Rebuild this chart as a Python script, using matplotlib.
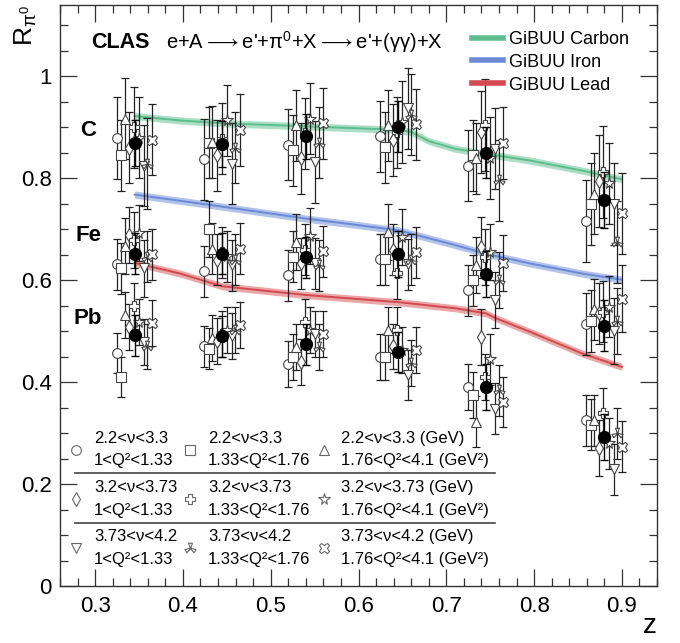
import matplotlib
matplotlib.use("Agg")
import matplotlib.pyplot as plt
import numpy as np
from matplotlib.lines import Line2D
from matplotlib.ticker import MultipleLocator, FuncFormatter

plt.rcParams['font.family'] = ['Liberation Sans', 'DejaVu Sans']
plt.rcParams['mathtext.fontset'] = 'custom'
plt.rcParams['mathtext.rm'] = 'Liberation Sans'
plt.rcParams['mathtext.it'] = 'Liberation Sans'
plt.rcParams['mathtext.default'] = 'regular'

# ---------------- data ----------------
z_bins = [0.345, 0.445, 0.54, 0.645, 0.745, 0.88]

# integrated (filled black) points
C_int = [0.869, 0.868, 0.882, 0.901, 0.850, 0.758]
Fe_int = [0.652, 0.652, 0.645, 0.651, 0.612, 0.511]
Pb_int = [0.492, 0.490, 0.474, 0.459, 0.391, 0.293]
C_int_err = [0.045, 0.045, 0.045, 0.050, 0.050, 0.055]
Fe_int_err = [0.040, 0.040, 0.040, 0.045, 0.045, 0.050]
Pb_int_err = [0.040, 0.040, 0.040, 0.040, 0.045, 0.045]

# kinematic bins (order: circle, square, triangle, diamond, cross, star, invtri, trefoil, xcross)
nu_q2_labels = [
    "2.2<ν<3.3\n1<Q²<1.33",
    "2.2<ν<3.3\n1.33<Q²<1.76",
    "2.2<ν<3.3 (GeV)\n1.76<Q²<4.1 (GeV²)",
    "3.2<ν<3.73\n1<Q²<1.33",
    "3.2<ν<3.73\n1.33<Q²<1.76",
    "3.2<ν<3.73 (GeV)\n1.76<Q²<4.1 (GeV²)",
    "3.73<ν<4.2\n1<Q²<1.33",
    "3.73<ν<4.2\n1.33<Q²<1.76",
    "3.73<ν<4.2 (GeV)\n1.76<Q²<4.1 (GeV²)",
]

C_bins = [
    [0.879, 0.845, 0.917, 0.860, 0.900, 0.880, 0.825, 0.829, 0.876],
    [0.837, 0.870, 0.871, 0.845, 0.878, 0.914, 0.829, 0.860, 0.895],
    [0.866, 0.855, 0.904, 0.839, 0.888, 0.917, 0.832, 0.870, 0.908],
    [0.882, 0.861, 0.904, 0.875, 0.890, 0.910, 0.937, 0.925, 0.906],
    [0.825, 0.845, 0.839, 0.891, 0.904, 0.840, 0.858, 0.796, 0.869],
    [0.716, 0.750, 0.770, 0.795, 0.812, 0.790, 0.750, 0.675, 0.731],
]
C_bins_err = [
    [0.080, 0.070, 0.080, 0.070, 0.080, 0.080, 0.080, 0.090, 0.070],
    [0.080, 0.070, 0.070, 0.070, 0.070, 0.070, 0.080, 0.070, 0.070],
    [0.070, 0.070, 0.070, 0.070, 0.070, 0.070, 0.080, 0.070, 0.070],
    [0.070, 0.070, 0.070, 0.070, 0.070, 0.080, 0.080, 0.080, 0.070],
    [0.070, 0.070, 0.070, 0.080, 0.090, 0.080, 0.080, 0.080, 0.070],
    [0.080, 0.080, 0.080, 0.090, 0.090, 0.080, 0.080, 0.080, 0.080],
]
Fe_bins = [
    [0.631, 0.623, 0.667, 0.688, 0.678, 0.692, 0.623, 0.646, 0.651],
    [0.618, 0.701, 0.662, 0.640, 0.655, 0.647, 0.629, 0.640, 0.662],
    [0.610, 0.646, 0.675, 0.633, 0.660, 0.686, 0.633, 0.629, 0.657],
    [0.641, 0.641, 0.695, 0.660, 0.614, 0.685, 0.631, 0.640, 0.655],
    [0.580, 0.600, 0.629, 0.665, 0.645, 0.656, 0.561, 0.600, 0.633],
    [0.514, 0.520, 0.543, 0.535, 0.538, 0.548, 0.500, 0.520, 0.564],
]
Fe_bins_err = [
    [0.050, 0.050, 0.055, 0.055, 0.055, 0.055, 0.055, 0.050, 0.050],
    [0.050, 0.055, 0.050, 0.050, 0.050, 0.050, 0.050, 0.050, 0.050],
    [0.050, 0.050, 0.055, 0.050, 0.050, 0.055, 0.050, 0.050, 0.050],
    [0.050, 0.050, 0.055, 0.050, 0.050, 0.055, 0.050, 0.050, 0.050],
    [0.050, 0.050, 0.055, 0.060, 0.055, 0.055, 0.055, 0.055, 0.055],
    [0.060, 0.060, 0.060, 0.060, 0.060, 0.060, 0.065, 0.065, 0.065],
]
Pb_bins = [
    [0.457, 0.410, 0.531, 0.508, 0.550, 0.518, 0.479, 0.470, 0.516],
    [0.470, 0.466, 0.487, 0.480, 0.495, 0.502, 0.490, 0.502, 0.512],
    [0.435, 0.450, 0.469, 0.440, 0.518, 0.502, 0.495, 0.469, 0.495],
    [0.450, 0.450, 0.502, 0.470, 0.503, 0.463, 0.414, 0.437, 0.463],
    [0.390, 0.374, 0.322, 0.489, 0.410, 0.445, 0.348, 0.384, 0.361],
    [0.325, 0.316, 0.325, 0.270, 0.339, 0.280, 0.229, 0.300, 0.273],
]
Pb_bins_err = [
    [0.040, 0.040, 0.045, 0.045, 0.045, 0.045, 0.045, 0.045, 0.045],
    [0.040, 0.040, 0.045, 0.045, 0.045, 0.045, 0.045, 0.045, 0.045],
    [0.045, 0.045, 0.045, 0.045, 0.045, 0.045, 0.045, 0.045, 0.045],
    [0.045, 0.045, 0.045, 0.045, 0.045, 0.045, 0.050, 0.045, 0.045],
    [0.045, 0.045, 0.050, 0.055, 0.045, 0.050, 0.050, 0.050, 0.050],
    [0.050, 0.050, 0.050, 0.055, 0.050, 0.050, 0.050, 0.050, 0.050],
]

# GiBUU curves
gibuu_C_z = [0.345, 0.40, 0.445, 0.54, 0.60, 0.645, 0.66, 0.68, 0.71, 0.745, 0.795, 0.855, 0.90]
gibuu_C_R = [0.922, 0.913, 0.908, 0.902, 0.898, 0.895, 0.891, 0.873, 0.858, 0.848, 0.835, 0.815, 0.798]
gibuu_Fe_z = [0.345, 0.43, 0.54, 0.60, 0.645, 0.71, 0.745, 0.795, 0.855, 0.90]
gibuu_Fe_R = [0.768, 0.748, 0.721, 0.708, 0.698, 0.669, 0.652, 0.633, 0.613, 0.601]
gibuu_Pb_z = [0.345, 0.397, 0.445, 0.54, 0.60, 0.645, 0.71, 0.745, 0.757, 0.795, 0.855, 0.90]
gibuu_Pb_R = [0.634, 0.613, 0.588, 0.571, 0.563, 0.557, 0.545, 0.535, 0.525, 0.499, 0.456, 0.430]

# ---------------- style ----------------
marker_shift = [-0.0205, -0.015, -0.0115, -0.006, -0.001, 0.005, 0.011, 0.0145, 0.020]
# trefoil-like marker
_ang = np.deg2rad([90, 210, 330])
_verts = []
for a in _ang:
    for da, r in [(-0.45, 0.15), (-0.35, 1.0), (0.35, 1.0), (0.45, 0.15)]:
        _verts.append((r * np.cos(a + da), r * np.sin(a + da)))
_verts.append(_verts[0])
trefoil = _verts
markers = ['o', 's', '^', 'd', 'P', '*', 'v', trefoil, 'X']
msizes = [7, 6.5, 7.5, 7, 7.5, 8.5, 7.5, 8, 7.5]
gcol = {'C': ('#8fd4b0', '#5dbd8d'), 'Fe': ('#98afe3', '#6a8ad6'), 'Pb': ('#e58a8a', '#d24a4f')}
band_half = 0.007

fig = plt.figure(figsize=(6.8, 6.43), dpi=100)
ax = fig.add_axes([60 / 680, 1 - 586 / 643, 597 / 680, 581 / 643])
ax.set_xlim(0.26, 0.94)
ax.set_ylim(0, 1.14)

# GiBUU bands
for key, zz, rr in [('C', gibuu_C_z, gibuu_C_R), ('Fe', gibuu_Fe_z, gibuu_Fe_R), ('Pb', gibuu_Pb_z, gibuu_Pb_R)]:
    zz = np.asarray(zz); rr = np.asarray(rr)
    ax.fill_between(zz, rr - band_half, rr + band_half, color=gcol[key][0], alpha=0.75, lw=0, zorder=1.5)
    ax.plot(zz, rr, color=gcol[key][1], lw=1.4, zorder=1.6)

# data points
zb = np.asarray(z_bins)
for vals, errs in [(C_bins, C_bins_err), (Fe_bins, Fe_bins_err), (Pb_bins, Pb_bins_err)]:
    v = np.asarray(vals); e = np.asarray(errs)
    for k in range(9):
        ax.errorbar(zb + marker_shift[k], v[:, k], yerr=e[:, k], fmt='none', ecolor='#222222',
                    elinewidth=0.9, capsize=2.6, capthick=0.9, zorder=2)
        ax.plot(zb + marker_shift[k], v[:, k], ls='none', marker=markers[k], ms=msizes[k],
                mfc='white', mec='#444444', mew=0.8, zorder=3)

for vals, errs in [(C_int, C_int_err), (Fe_int, Fe_int_err), (Pb_int, Pb_int_err)]:
    ax.errorbar(zb, vals, yerr=errs, fmt='o', color='black', ms=8.5, elinewidth=1.0,
                capsize=2.6, capthick=1.0, zorder=4)

# axes styling
ax.xaxis.set_major_locator(MultipleLocator(0.1))
ax.xaxis.set_minor_locator(MultipleLocator(0.02))
ax.yaxis.set_major_locator(MultipleLocator(0.2))
ax.yaxis.set_minor_locator(MultipleLocator(0.05))
ax.yaxis.set_major_formatter(FuncFormatter(lambda v, p: f"{v:g}"))
ax.xaxis.set_major_formatter(FuncFormatter(lambda v, p: f"{v:g}"))
ax.tick_params(which='both', direction='in', top=True, right=True, width=0.9, colors='#333333',
               labelcolor='black', labelsize=16)
ax.tick_params(which='major', length=12)
ax.tick_params(which='minor', length=6)
ax.tick_params(axis='y', pad=6)
ax.tick_params(axis='x', pad=7)
for s in ax.spines.values():
    s.set_color('#333333'); s.set_linewidth(1.0)

ax.set_xlabel('z', loc='right', fontsize=20, labelpad=-3)
ax.set_ylabel(r'R$_{\pi^0}$', loc='top', fontsize=19)
ax.yaxis.set_label_coords(-0.035, 1.0)

# header text
fig.text(91 / 680, 1 - 42 / 643, 'CLAS', fontsize=15.5, fontweight='bold', va='center', ha='left')
fig.text(166 / 680, 1 - 42 / 643,
         r"e+A$\longrightarrow$e'+$\pi^{0}$+X$\longrightarrow$e'+($\gamma\gamma$)+X",
         fontsize=14.5, va='center', ha='left', math_fontfamily='dejavusans')

# target labels
for lab, yv in [('C', 0.894), ('Fe', 0.688), ('Pb', 0.525)]:
    ax.text(0.292, yv, lab, fontsize=16, fontweight='bold', ha='center', va='center')

# GiBUU legend
gh = [Line2D([], [], color=gcol['C'][1], lw=4), Line2D([], [], color=gcol['Fe'][1], lw=4),
      Line2D([], [], color=gcol['Pb'][1], lw=4)]
leg1 = ax.legend(gh, ['GiBUU Carbon', 'GiBUU Iron', 'GiBUU Lead'], loc='upper left',
                 bbox_to_anchor=(472 / 680, 1 - 31 / 643), bbox_transform=fig.transFigure,
                 frameon=False, fontsize=13, borderpad=0, borderaxespad=0, handlelength=1.7,
                 handletextpad=0.35, labelspacing=0.32)
ax.add_artist(leg1)

# kinematic-bin legend (column-major order)
order = [0, 3, 6, 1, 4, 7, 2, 5, 8]
mh = [Line2D([], [], ls='none', marker=markers[k], ms=msizes[k], mfc='white', mec='#666666', mew=0.8)
      for k in order]
leg2 = ax.legend(mh, [nu_q2_labels[k] for k in order], ncol=3, loc='upper left',
                 bbox_to_anchor=(68 / 680, 1 - 431 / 643), bbox_transform=fig.transFigure,
                 frameon=False, fontsize=12, borderpad=0, borderaxespad=0, handlelength=1.0,
                 handletextpad=0.55, columnspacing=0.3, labelspacing=0.7)
for t in leg2.get_texts():
    t.set_linespacing(1.62)

for yy in [472.7, 523.3]:
    fig.add_artist(Line2D([75 / 680, 495 / 680], [1 - yy / 643] * 2, color='#444444', lw=1.2))

fig.savefig('out.png', dpi=100)
